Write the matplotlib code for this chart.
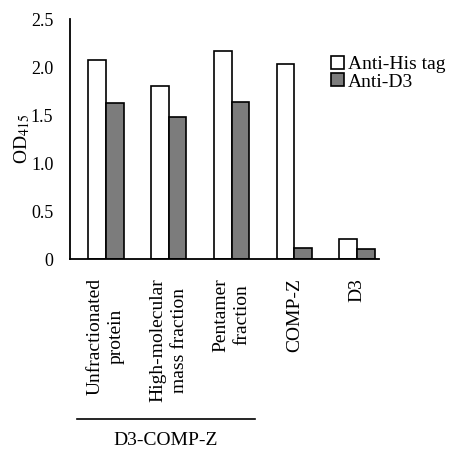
import numpy as np
import matplotlib.pyplot as plt

categories = ["Unfractionated\nprotein", "High-molecular\nmass fraction",
              "Pentamer\nfraction", "COMP-Z", "D3"]
anti_his = [2.07, 1.80, 2.17, 2.03, 0.21]
anti_d3 = [1.62, 1.48, 1.64, 0.11, 0.10]
yticks = [0, 0.5, 1.0, 1.5, 2.0, 2.5]
ytick_labels = ["0", "0.5", "1.0", "1.5", "2.0", "2.5"]

plt.rcParams['font.family'] = ['Liberation Serif', 'DejaVu Serif']
plt.rcParams['mathtext.fontset'] = 'stix'

fig = plt.figure(figsize=(4.49, 4.5), dpi=100)
ax = fig.add_axes([70/449, 191/450, 309/449, 240/450])

x = np.arange(len(categories))
w = 0.28
ax.bar(x - w/2, anti_his, w, color="white", edgecolor="black", linewidth=1.2, label="Anti-His tag")
ax.bar(x + w/2, anti_d3, w, color="#7c7c7c", edgecolor="black", linewidth=1.2, label="Anti-D3")

ax.set_xlim(-0.574, 4.35)
ax.set_ylim(0, 2.5)
ax.set_yticks(yticks)
ax.set_yticklabels(ytick_labels, fontsize=13)
ax.tick_params(axis="y", length=0, pad=12)
ax.set_xticks([])
for s in ["top", "right"]:
    ax.spines[s].set_visible(False)
for s in ["left", "bottom"]:
    ax.spines[s].set_linewidth(1.3)

ax.set_ylabel("OD$_{415}$", fontsize=14, labelpad=-1)

# category labels, rotated, top-aligned under the axis
for xi, lab in zip(x, categories):
    ax.text(xi, -0.08, lab, rotation=90, ha="center", va="top", multialignment="center",
            fontsize=14, transform=ax.get_xaxis_transform(), linespacing=1.3)

# group bracket
trans = ax.get_xaxis_transform()
ax.plot([-0.46, 2.37], [-0.667, -0.667], color="black", lw=1.2, transform=trans, clip_on=False)
ax.text(0.955, -0.758, "D3-COMP-Z", ha="center", va="center", fontsize=14, transform=trans)

ax.legend(loc="upper left", bbox_to_anchor=(331/449, 1 - 56/450), bbox_transform=fig.transFigure,
          frameon=False, fontsize=14, handlelength=0.65, handleheight=0.65, handletextpad=0.2,
          labelspacing=0.0, borderpad=0, borderaxespad=0)

fig.savefig("out.png", dpi=100)
